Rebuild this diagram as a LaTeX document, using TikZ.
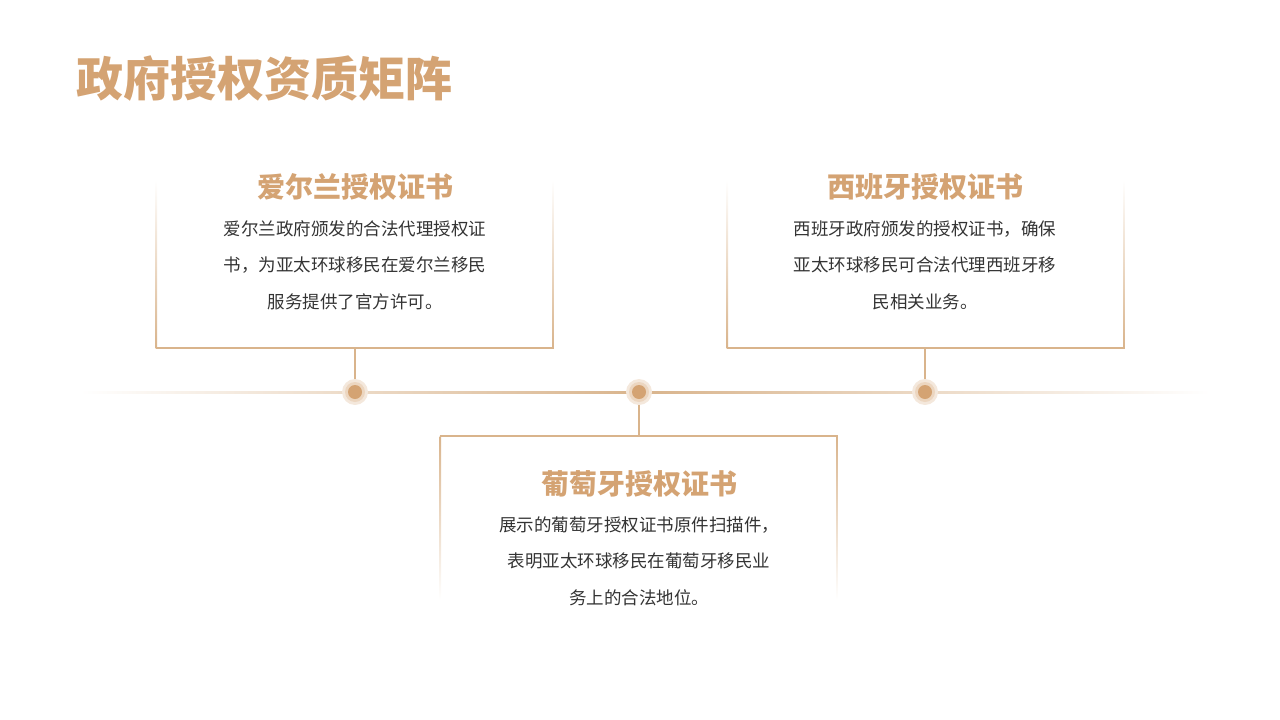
\documentclass[tikz,border=0pt]{standalone}
\usepackage{fontspec}
\setmainfont{Noto Sans CJK SC}
\begin{document}
\begin{tikzpicture}[x=1pt,y=-1pt]
\definecolor{gold}{HTML}{D4A373}
\definecolor{lgold}{HTML}{D9B48C}
\definecolor{txt}{HTML}{333333}
\tikzset{ttl/.style={text=gold,font=\fontsize{28}{32}\selectfont\bfseries},
 body/.style={text=txt,font=\fontsize{17.5}{36.5}\selectfont,align=center},
 dotc/.style={fill=gold}}
\useasboundingbox (0,0) rectangle (1280,720);
\node[anchor=west,text=gold,font=\fontsize{47}{50}\selectfont\bfseries] (title) at (73,79) {政府授权资质矩阵};
% timeline
\shade[left color=white,right color=lgold] (80,391) rectangle (640,393);
\shade[left color=lgold,right color=white] (640,391) rectangle (1210,393);
% top-left box
\shade[top color=white,bottom color=lgold] (155.5,180) rectangle (157,348);
\shade[top color=white,bottom color=lgold] (552,180) rectangle (553.5,348);
\draw[lgold,line width=1.5] (155.5,348) -- (553.5,348);
% top-right
\shade[top color=white,bottom color=lgold] (726.5,180) rectangle (728,348);
\shade[top color=white,bottom color=lgold] (1123,180) rectangle (1124.5,348);
\draw[lgold,line width=1.5] (726.5,348) -- (1124.5,348);
% bottom
\shade[top color=lgold,bottom color=white] (439.5,436) rectangle (441,600);
\shade[top color=lgold,bottom color=white] (836,436) rectangle (837.5,600);
\draw[lgold,line width=1.5] (439.5,436) -- (837.5,436);
% connectors and dots
\foreach \n/\x/\a/\b in {d1/355/348/380,d2/639/404/436,d3/925/348/380}{
 \draw[lgold,line width=1.5] (\x,\a) -- (\x,\b);
 \fill[gold!25] (\x,392) circle (13);
 \fill[gold!45] (\x,392) circle (10);
 \node[circle,dotc,inner sep=0,minimum size=14pt] (\n) at (\x,392) {};
}
\node[ttl] (t1) at (355,187) {爱尔兰授权证书};
\node[body] (b1) at (355,265) {爱尔兰政府颁发的合法代理授权证\\书，为亚太环球移民在爱尔兰移民\\服务提供了官方许可。};
\node[ttl] (t2) at (925,187) {西班牙授权证书};
\node[body] (b2) at (925,265) {西班牙政府颁发的授权证书，确保\\亚太环球移民可合法代理西班牙移\\民相关业务。};
\node[ttl] (t3) at (639,484) {葡萄牙授权证书};
\node[body] (b3) at (639,561) {展示的葡萄牙授权证书原件扫描件，\\表明亚太环球移民在葡萄牙移民业\\务上的合法地位。};
\end{tikzpicture}
\end{document}
